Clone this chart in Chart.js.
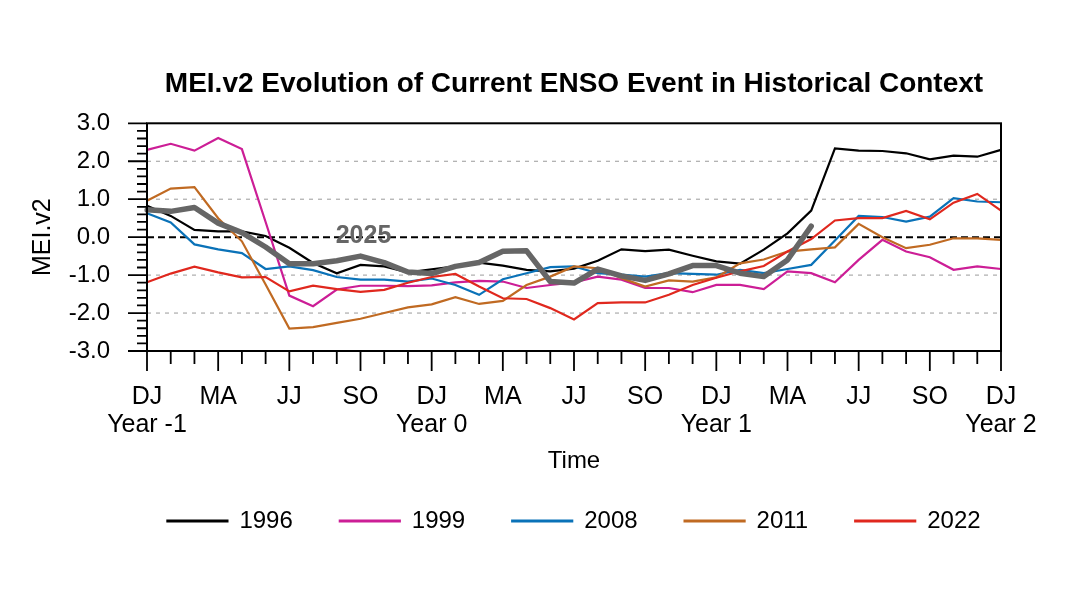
<!DOCTYPE html>
<html>
<head>
<meta charset="utf-8">
<script src="https://cdn.jsdelivr.net/npm/chart.js@4.4.1/dist/chart.umd.min.js"></script>
<style>
  html, body { margin: 0; padding: 0; background: #fff; }
  #wrap { width: 1070px; height: 602px; }
</style>
</head>
<body>
<div id="wrap"><canvas id="mei" width="1070" height="602"></canvas></div>
<script>
// overlapping 2-month seasons, DJ of Year -1 through DJ of Year 2
const seasons = ['DJ', 'JF', 'FM', 'MA', 'AM', 'MJ', 'JJ', 'JA', 'AS', 'SO', 'ON', 'ND'];
const yearLabels = ['Year -1', 'Year 0', 'Year 1', 'Year 2'];
const yTicks = [-3, -2, -1, 0, 1, 2, 3];

const mei1996 = [0.83, 0.56, 0.19, 0.15, 0.15, 0.03, -0.28, -0.68, -0.95, -0.73, -0.77, -0.93,
  -0.85, -0.77, -0.67, -0.75, -0.86, -0.90, -0.83, -0.62, -0.32, -0.37, -0.33, -0.49,
  -0.64, -0.70, -0.33, 0.10, 0.70, 2.34, 2.28, 2.27, 2.21, 2.05, 2.15, 2.12, 2.30];
const mei1999 = [2.30, 2.46, 2.28, 2.61, 2.32, 0.40, -1.54, -1.82, -1.38, -1.28, -1.28, -1.29,
  -1.27, -1.19, -1.15, -1.17, -1.34, -1.26, -1.19, -1.04, -1.12, -1.34, -1.34, -1.45,
  -1.26, -1.26, -1.37, -0.90, -0.95, -1.19, -0.60, -0.07, -0.38, -0.53, -0.86, -0.77, -0.84];
const mei2008 = [0.63, 0.39, -0.19, -0.32, -0.42, -0.84, -0.77, -0.87, -1.05, -1.12, -1.12, -1.17,
  -1.09, -1.26, -1.52, -1.11, -0.95, -0.79, -0.77, -0.95, -0.99, -1.04, -0.95, -0.97,
  -0.99, -0.86, -0.95, -0.84, -0.73, -0.09, 0.56, 0.53, 0.41, 0.54, 1.03, 0.94, 0.92];
const mei2011 = [0.96, 1.28, 1.32, 0.50, -0.11, -1.25, -2.41, -2.37, -2.26, -2.15, -2.00, -1.85,
  -1.77, -1.58, -1.76, -1.68, -1.26, -1.04, -0.77, -0.82, -1.08, -1.30, -1.14, -1.17,
  -1.06, -0.69, -0.59, -0.38, -0.32, -0.27, 0.35, 0.00, -0.29, -0.20, -0.03, -0.03, -0.07];
const mei2022 = [-1.19, -0.96, -0.78, -0.93, -1.06, -1.05, -1.43, -1.28, -1.37, -1.44, -1.39, -1.20,
  -1.05, -0.97, -1.30, -1.61, -1.63, -1.87, -2.17, -1.74, -1.72, -1.72, -1.52, -1.26,
  -1.07, -0.90, -0.76, -0.38, -0.05, 0.44, 0.50, 0.50, 0.69, 0.47, 0.91, 1.14, 0.70];
// current event, runs to AM of Year 1
const mei2025 = [0.72, 0.68, 0.78, 0.37, 0.12, -0.26, -0.70, -0.70, -0.62, -0.50, -0.67, -0.92,
  -0.96, -0.77, -0.67, -0.37, -0.36, -1.17, -1.21, -0.84, -1.02, -1.14, -0.97, -0.75,
  -0.75, -0.95, -1.04, -0.60, 0.29];

const labels = [];
for (let i = 0; i <= 36; i++) labels.push(seasons[i % 12]);

const font = '"Liberation Sans", Arial, Helvetica, sans-serif';
Chart.defaults.font.family = font;
Chart.defaults.color = '#000';

function line(label, data, color, order) {
  return {
    label, data, order,
    borderColor: color, backgroundColor: color,
    borderWidth: 2.2, pointRadius: 0, tension: 0, fill: false
  };
}

// dashed grid, frame, tick marks and the 2025 tag
const frame = {
  id: 'frame',
  beforeDatasetsDraw(chart) {
    const { ctx, chartArea: a, scales: { y } } = chart;
    ctx.save();
    yTicks.forEach(v => {
      if (v === -3 || v === 3) return;
      const py = y.getPixelForValue(v);
      ctx.beginPath();
      if (v === 0) {
        ctx.strokeStyle = '#000'; ctx.lineWidth = 2; ctx.setLineDash([7, 4]);
      } else {
        ctx.strokeStyle = '#9a9a9a'; ctx.lineWidth = 1; ctx.setLineDash([4, 5]);
      }
      ctx.moveTo(a.left, py);
      ctx.lineTo(a.right, py);
      ctx.stroke();
    });
    ctx.restore();
  },
  afterDatasetsDraw(chart) {
    const { ctx, chartArea: a, scales: { x, y } } = chart;
    ctx.save();
    ctx.strokeStyle = '#000';
    ctx.lineWidth = 2;
    ctx.strokeRect(a.left, a.top, a.right - a.left, a.bottom - a.top);
    ctx.beginPath();
    for (let i = 0; i < labels.length; i++) {
      const px = x.getPixelForValue(i);
      ctx.moveTo(px, a.bottom);
      ctx.lineTo(px, a.bottom + (i % 3 === 0 ? 20 : 13));
    }
    for (let k = -15; k <= 15; k++) {
      const py = y.getPixelForValue(k / 5);
      ctx.moveTo(a.left, py);
      ctx.lineTo(a.left - (k % 5 === 0 ? 19 : 10), py);
    }
    ctx.lineWidth = 1.8;
    ctx.stroke();

    ctx.fillStyle = '#666666';
    ctx.font = 'bold 25px ' + font;
    ctx.textAlign = 'center';
    ctx.textBaseline = 'middle';
    ctx.fillText('2025', x.getPixelForValue(9) + 3, y.getPixelForValue(0) - 1);
    ctx.restore();
  }
};

const cur = line('2025', mei2025, '#666666', 0);
cur.borderWidth = 5.5;
cur.borderCapStyle = 'round';
cur.borderJoinStyle = 'round';

new Chart(document.getElementById('mei'), {
  type: 'line',
  data: {
    labels: labels,
    datasets: [
      line('1996', mei1996, '#000000', 5),
      line('1999', mei1999, '#CC1E96', 4),
      line('2008', mei2008, '#0A72B8', 3),
      line('2011', mei2011, '#C06A22', 2),
      line('2022', mei2022, '#E0281E', 1),
      cur
    ]
  },
  options: {
    responsive: false,
    animation: false,
    events: [],
    // uneven side padding keeps title and legend centred on the plot
    layout: { padding: { top: 0, left: 60, right: -18, bottom: 59 } },
    scales: {
      x: {
        type: 'category',
        offset: false,
        grid: { display: false, drawTicks: false },
        border: { display: false },
        ticks: {
          autoSkip: false, maxRotation: 0, minRotation: 0, padding: 32.5,
          font: { size: 25, lineHeight: '28px' },
          callback: (v, i) => {
            if (i % 12 === 0) return [seasons[0], yearLabels[i / 12]];
            return i % 3 === 0 ? seasons[i % 12] : '';
          }
        },
        title: { display: true, text: 'Time', font: { size: 24 }, padding: { top: 0, bottom: -14 } },
        afterFit: s => { s.height = 111; }
      },
      y: {
        min: -3, max: 3,
        grid: { display: false, drawTicks: false },
        border: { display: false },
        ticks: { stepSize: 1, padding: 37, font: { size: 24 }, callback: v => v.toFixed(1) },
        title: { display: true, text: 'MEI.v2', font: { size: 25 }, padding: { top: -32, bottom: 0 } },
        afterFit: s => { s.width = 87; }
      },
      yRight: {
        position: 'right', min: -3, max: 3,
        grid: { display: false, drawTicks: false },
        border: { display: false },
        ticks: { display: false },
        afterFit: s => { s.width = 87; }
      }
    },
    plugins: {
      title: {
        display: true,
        text: 'MEI.v2 Evolution of Current ENSO Event in Historical Context',
        font: { size: 28, weight: 'bold' },
        padding: { top: 67.4, bottom: 22.3 }
      },
      legend: {
        position: 'bottom',
        labels: {
          boxWidth: 60, boxHeight: 1, padding: 47,
          font: { size: 24 },
          filter: item => item.text !== '2025',
          sort: (a, b) => a.datasetIndex - b.datasetIndex
        }
      },
      tooltip: { enabled: false }
    }
  },
  plugins: [frame]
});
</script>
</body>
</html>
